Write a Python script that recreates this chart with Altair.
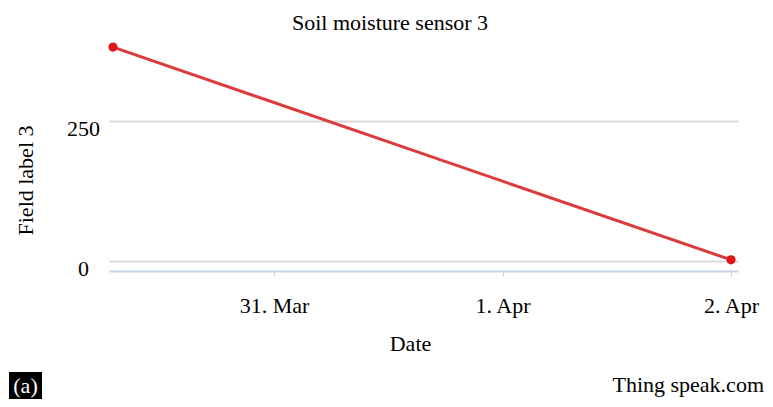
import altair as alt
import pandas as pd

# Data
times = ["2020-03-30T07:05:00Z", "2020-04-02T00:00:00Z"]
values = [382, 2]
tick_dates = ["2020-03-31T00:00:00Z", "2020-04-01T00:00:00Z", "2020-04-02T00:00:00Z"]
y_ticks = [0, 250]
x_domain = ["2020-03-30T06:40:00Z", "2020-04-02T00:44:00Z"]
y_domain = [-18, 400]
title_text = ["Soil moisture sensor 3"]
panel_label = ["(a)"]
source_text = ["Thing speak.com"]

def ms(s):
    return int(pd.Timestamp(s).value // 10**6)

df = pd.DataFrame({"t": times, "v": values})
FONT = "Liberation Serif"
FS = 22

xenc = alt.X(
    "t:T",
    scale=alt.Scale(type="utc", domain=[ms(d) for d in x_domain]),
    axis=alt.Axis(
        values=[ms(d) for d in tick_dates],
        labelExpr="utcFormat(datum.value, '%-d. %b')",
        title="Date",
        grid=False,
        domainColor="#c5d3e5",
        domainWidth=2,
        tickColor="#c5d3e5",
        tickSize=5,
        labelPadding=19,
        labelBaseline="top",
        labelFont=FONT,
        labelFontSize=FS,
        labelColor="black",
        titleFont=FONT,
        titleFontSize=FS,
        titleFontWeight="normal",
        titleColor="black",
        titleX=301,
        titleY=72,
        titleBaseline="middle",
    ),
)
yenc = alt.Y(
    "v:Q",
    scale=alt.Scale(domain=y_domain, nice=False, zero=False),
    axis=alt.Axis(
        values=y_ticks,
        title="Field label 3",
        domain=False,
        ticks=False,
        tickSize=0,
        grid=True,
        gridColor="#d9d9d9",
        gridWidth=2,
        labelAlign="center",
        labelPadding=26,
        labelBaseline="middle",
        labelOffset=8,
        labelFont=FONT,
        labelFontSize=FS,
        labelColor="black",
        titleFont=FONT,
        titleFontSize=FS,
        titleFontWeight="normal",
        titleColor="black",
        titleX=-84,
        titleY=143,
        titleBaseline="middle",
        titleAlign="center",
    ),
)

base = alt.Chart(df)
line = base.mark_line(color="#dd3b3b", strokeWidth=3).encode(x=xenc, y=yenc)
pts = base.mark_circle(color="#e01616", size=85, opacity=1).encode(x="t:T", y="v:Q")

ttl = alt.Chart(pd.DataFrame({"a": title_text})).mark_text(
    color="black", font=FONT, fontSize=FS, align="center", baseline="alphabetic"
).encode(x=alt.value(281), y=alt.value(-7), text="a:N")
box = alt.Chart(pd.DataFrame({"a": [1]})).mark_rect(color="black").encode(
    x=alt.value(-100), x2=alt.value(-67), y=alt.value(335), y2=alt.value(362)
)
lab_a = alt.Chart(pd.DataFrame({"a": panel_label})).mark_text(
    color="white", font=FONT, fontSize=FS, align="center", baseline="middle"
).encode(x=alt.value(-83.5), y=alt.value(349), text="a:N")
src = alt.Chart(pd.DataFrame({"a": source_text})).mark_text(
    color="black", font=FONT, fontSize=FS, align="right", baseline="alphabetic"
).encode(x=alt.value(655), y=alt.value(355), text="a:N")

chart = (
    alt.layer(line, pts, ttl, box, lab_a, src)
    .properties(
        width=629,
        height=234,
        autosize=alt.AutoSizeParams(type="none"),
        padding={"left": 101, "top": 29, "right": 27, "bottom": 128},
        background="white",
    )
    .configure_view(strokeWidth=0, stroke="transparent")
)

chart.save("out.html", embed_options={"renderer": "svg", "actions": False})
